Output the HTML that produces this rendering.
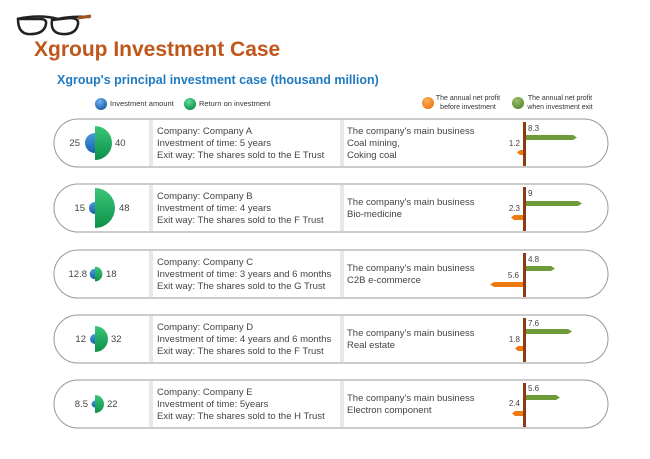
<!DOCTYPE html>
<html><head><meta charset="utf-8"><style>
body{margin:0;background:#fff;}
svg{display:block;font-family:"Liberation Sans",Arial,sans-serif;}
</style></head><body>
<svg width="650" height="459" viewBox="0 0 650 459" xmlns="http://www.w3.org/2000/svg">
<defs>
<linearGradient id="gb" x1="0" y1="0" x2="0" y2="1"><stop offset="0" stop-color="#4a9be0"/><stop offset="1" stop-color="#1a5fa8"/></linearGradient>
<linearGradient id="gg" x1="0" y1="0" x2="0" y2="1"><stop offset="0" stop-color="#3cc57a"/><stop offset="1" stop-color="#0d9148"/></linearGradient>
<radialGradient id="lb" cx="0.4" cy="0.3" r="0.7"><stop offset="0" stop-color="#6fb4f0"/><stop offset="1" stop-color="#1a5fa8"/></radialGradient>
<radialGradient id="lg" cx="0.4" cy="0.3" r="0.7"><stop offset="0" stop-color="#5fe09a"/><stop offset="1" stop-color="#0d9148"/></radialGradient>
<radialGradient id="lo" cx="0.4" cy="0.3" r="0.7"><stop offset="0" stop-color="#ffb060"/><stop offset="1" stop-color="#ee7a10"/></radialGradient>
<radialGradient id="lgr" cx="0.4" cy="0.3" r="0.7"><stop offset="0" stop-color="#9bc06a"/><stop offset="1" stop-color="#5f8a30"/></radialGradient>
</defs>
<!-- glasses -->
<g stroke="#222" stroke-width="2.5" fill="none">
<path d="M17 19 Q40 14 58 19 Q70 16 90 17"/>
<path d="M18 19 Q18 33 28 34 Q44 35 46 24 Q47 19 40 19 Z"/>
<path d="M52 20 Q50 33 62 34 Q76 35 78 24 Q79 18 70 18 Z"/>
</g>
<path d="M78 18 L91 16" stroke="#a0521c" stroke-width="3"/>
<text x="34" y="56" font-size="21" font-weight="bold" fill="#c0571a">Xgroup Investment Case</text>
<text x="57" y="84" font-size="12.5" font-weight="bold" fill="#1f7ac0">Xgroup's principal investment case (thousand million)</text>
<!-- legend -->
<circle cx="101" cy="104" r="6" fill="url(#lb)"/><text x="110" y="106" font-size="7.5" fill="#333">Investment amount</text>
<circle cx="190" cy="104" r="6" fill="url(#lg)"/><text x="199" y="106" font-size="7.5" fill="#333">Return on investment</text>
<circle cx="428" cy="103" r="6" fill="url(#lo)"/><text x="468" y="100" font-size="7" fill="#333" text-anchor="middle">The annual net profit</text><text x="468" y="109" font-size="7" fill="#333" text-anchor="middle">before investment</text>
<circle cx="518" cy="103" r="6" fill="url(#lgr)"/><text x="560" y="100" font-size="7" fill="#333" text-anchor="middle">The annual net profit</text><text x="560" y="109" font-size="7" fill="#333" text-anchor="middle">when investment exit</text>

<g id="rows" font-size="9.5" fill="#333">
</g>
<g font-size="9.5" fill="#444">
<!-- Row A top 119 -->
<rect x="54" y="119" width="554" height="48" rx="24" fill="none" stroke="#999" stroke-width="1"/>
<rect x="149" y="120" width="4" height="46" fill="#e8e8e8"/><rect x="340" y="120" width="4" height="46" fill="#e8e8e8"/>
<path d="M95 133 A10 10 0 0 0 95 153 Z" fill="url(#gb)"/><path d="M95 126 A17 17 0 0 1 95 160 Z" fill="url(#gg)"/>
<text x="80" y="146" text-anchor="end">25</text><text x="115" y="146">40</text>
<text x="157" y="134">Company: Company A</text><text x="157" y="146">Investment of time: 5 years</text><text x="157" y="158">Exit way: The shares sold to the E Trust</text>
<text x="347" y="134">The company's main business</text><text x="347" y="146">Coal mining,</text><text x="347" y="158">Coking coal</text>
<polygon points="525,135 573,135 577,137.5 573,140 525,140" fill="#6f9a3a"/><polygon points="525,150 520,150 517,152.5 520,155 525,155" fill="#ee7a10"/>
<rect x="523" y="122" width="3" height="44" fill="#8b3a12"/>
<text x="528" y="131" font-size="8">8.3</text><text x="520" y="146" font-size="8" text-anchor="end">1.2</text>

<!-- Row B top 184 -->
<rect x="54" y="184" width="554" height="48" rx="24" fill="none" stroke="#999" stroke-width="1"/>
<rect x="149" y="185" width="4" height="46" fill="#e8e8e8"/><rect x="340" y="185" width="4" height="46" fill="#e8e8e8"/>
<path d="M95 202 A6 6 0 0 0 95 214 Z" fill="url(#gb)"/><path d="M95 188 A20 20 0 0 1 95 228 Z" fill="url(#gg)"/>
<text x="85" y="211" text-anchor="end">15</text><text x="119" y="211">48</text>
<text x="157" y="199">Company: Company B</text><text x="157" y="211">Investment of time: 4 years</text><text x="157" y="223">Exit way: The shares sold to the F Trust</text>
<text x="347" y="205">The company's main business</text><text x="347" y="217"> Bio-medicine</text>
<polygon points="525,201 578,201 582,203.5 578,206 525,206" fill="#6f9a3a"/><polygon points="525,215 514,215 511,217.5 514,220 525,220" fill="#ee7a10"/>
<rect x="523" y="187" width="3" height="44" fill="#8b3a12"/>
<text x="528" y="196" font-size="8">9</text><text x="520" y="211" font-size="8" text-anchor="end">2.3</text>

<!-- Row C top 250 -->
<rect x="54" y="250" width="554" height="48" rx="24" fill="none" stroke="#999" stroke-width="1"/>
<rect x="149" y="251" width="4" height="46" fill="#e8e8e8"/><rect x="340" y="251" width="4" height="46" fill="#e8e8e8"/>
<path d="M95 268.7 A5.3 5.3 0 0 0 95 279.3 Z" fill="url(#gb)"/><path d="M95 266.6 A7.4 7.4 0 0 1 95 281.4 Z" fill="url(#gg)"/>
<text x="87" y="277" text-anchor="end">12.8</text><text x="106" y="277">18</text>
<text x="157" y="265">Company: Company C</text><text x="157" y="277">Investment of time: 3 years and 6 months</text><text x="157" y="289">Exit way: The shares sold to the G Trust</text>
<text x="347" y="271">The company's main business</text><text x="347" y="283">C2B  e-commerce</text>
<polygon points="525,266 551,266 555,268.5 551,271 525,271" fill="#6f9a3a"/><polygon points="525,282 494,282 490,284.5 494,287 525,287" fill="#ee7a10"/>
<rect x="523" y="253" width="3" height="44" fill="#8b3a12"/>
<text x="528" y="262" font-size="8">4.8</text><text x="519" y="278" font-size="8" text-anchor="end">5.6</text>

<!-- Row D top 315 -->
<rect x="54" y="315" width="554" height="48" rx="24" fill="none" stroke="#999" stroke-width="1"/>
<rect x="149" y="316" width="4" height="46" fill="#e8e8e8"/><rect x="340" y="316" width="4" height="46" fill="#e8e8e8"/>
<path d="M95 334 A5 5 0 0 0 95 344 Z" fill="url(#gb)"/><path d="M95 326 A13 13 0 0 1 95 352 Z" fill="url(#gg)"/>
<text x="86" y="342" text-anchor="end">12</text><text x="111" y="342">32</text>
<text x="157" y="330">Company: Company D</text><text x="157" y="342">Investment of time: 4 years and 6 months</text><text x="157" y="354">Exit way: The shares sold to the F Trust</text>
<text x="347" y="336">The company's main business</text><text x="347" y="348">Real estate</text>
<polygon points="525,329 568,329 572,331.5 568,334 525,334" fill="#6f9a3a"/><polygon points="525,346 518,346 515,348.5 518,351 525,351" fill="#ee7a10"/>
<rect x="523" y="318" width="3" height="44" fill="#8b3a12"/>
<text x="528" y="326" font-size="8">7.6</text><text x="520" y="342" font-size="8" text-anchor="end">1.8</text>

<!-- Row E top 380 -->
<rect x="54" y="380" width="554" height="48" rx="24" fill="none" stroke="#999" stroke-width="1"/>
<rect x="149" y="381" width="4" height="46" fill="#e8e8e8"/><rect x="340" y="381" width="4" height="46" fill="#e8e8e8"/>
<path d="M95 400.5 A3.5 3.5 0 0 0 95 407.5 Z" fill="url(#gb)"/><path d="M95 395 A9 9 0 0 1 95 413 Z" fill="url(#gg)"/>
<text x="88" y="407" text-anchor="end">8.5</text><text x="107" y="407">22</text>
<text x="157" y="395">Company: Company E</text><text x="157" y="407">Investment of time: 5years</text><text x="157" y="419">Exit way: The shares sold to the H Trust</text>
<text x="347" y="401">The company's main business</text><text x="347" y="413">Electron component</text>
<polygon points="525,395 556,395 560,397.5 556,400 525,400" fill="#6f9a3a"/><polygon points="525,411 515,411 512,413.5 515,416 525,416" fill="#ee7a10"/>
<rect x="523" y="383" width="3" height="44" fill="#8b3a12"/>
<text x="528" y="391" font-size="8">5.6</text><text x="520" y="406" font-size="8" text-anchor="end">2.4</text>
</g>
</svg>
</body></html>
